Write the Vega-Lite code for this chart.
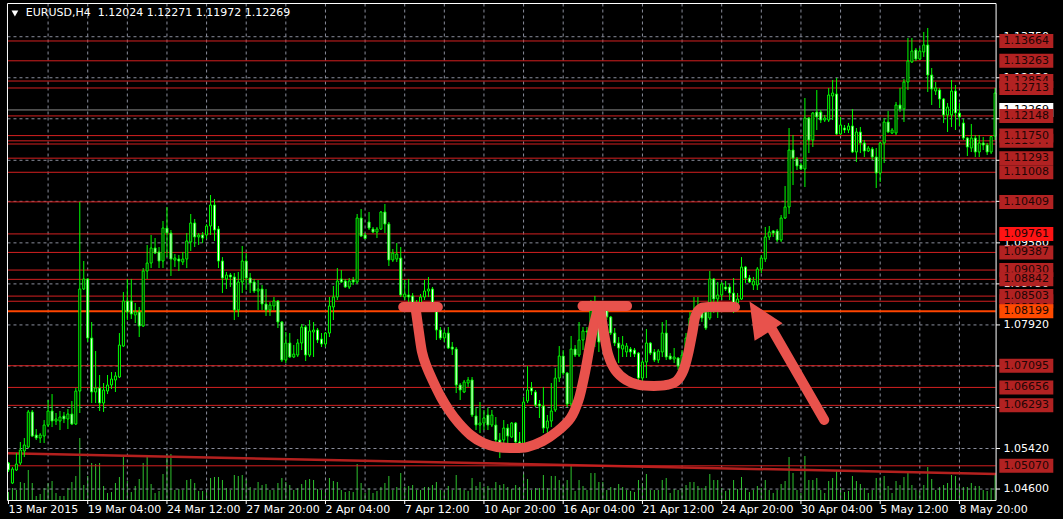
{
"$schema": "https://vega.github.io/schema/vega-lite/v6.json",
"width": 1063, "height": 519,
"autosize": {"type": "fit", "contains": "padding"},
"padding": 0,
"background": "#000000",
"config": {"view": {"stroke": null}},
"datasets": {
"candles": [
{"t":0,"o":1.05126,"h":1.05147,"l":1.04945,"c":1.04985,"v":8000},
{"t":1,"o":1.04721,"h":1.05045,"l":1.04701,"c":1.05005,"v":12000},
{"t":2,"o":1.04985,"h":1.05328,"l":1.04965,"c":1.05106,"v":10000},
{"t":3,"o":1.05126,"h":1.05552,"l":1.05086,"c":1.05389,"v":18000},
{"t":4,"o":1.05369,"h":1.05632,"l":1.05247,"c":1.05491,"v":17000},
{"t":5,"o":1.05450,"h":1.06199,"l":1.05430,"c":1.06159,"v":30000},
{"t":6,"o":1.06159,"h":1.06199,"l":1.05652,"c":1.05672,"v":17000},
{"t":7,"o":1.05693,"h":1.05814,"l":1.05592,"c":1.05632,"v":4000},
{"t":8,"o":1.05632,"h":1.05733,"l":1.05531,"c":1.05693,"v":6000},
{"t":9,"o":1.05672,"h":1.05996,"l":1.05531,"c":1.05895,"v":12000},
{"t":10,"o":1.05895,"h":1.06401,"l":1.05854,"c":1.06179,"v":17000},
{"t":11,"o":1.06179,"h":1.06522,"l":1.05854,"c":1.05976,"v":19000},
{"t":12,"o":1.05976,"h":1.06138,"l":1.05895,"c":1.06017,"v":7000},
{"t":13,"o":1.05976,"h":1.06179,"l":1.05794,"c":1.06057,"v":4000},
{"t":14,"o":1.06078,"h":1.06159,"l":1.05935,"c":1.06017,"v":4000},
{"t":15,"o":1.06017,"h":1.06219,"l":1.05814,"c":1.06118,"v":12000},
{"t":16,"o":1.06118,"h":1.06381,"l":1.05895,"c":1.05915,"v":18000},
{"t":17,"o":1.05915,"h":1.06644,"l":1.05895,"c":1.06583,"v":24000},
{"t":18,"o":1.06583,"h":1.10407,"l":1.06138,"c":1.08647,"v":62000},
{"t":19,"o":1.08647,"h":1.09213,"l":1.08626,"c":1.08849,"v":15000},
{"t":20,"o":1.08849,"h":1.08869,"l":1.07574,"c":1.07655,"v":24000},
{"t":21,"o":1.07655,"h":1.07979,"l":1.06340,"c":1.06563,"v":37000},
{"t":22,"o":1.06563,"h":1.07392,"l":1.06340,"c":1.06644,"v":36000},
{"t":23,"o":1.06644,"h":1.06907,"l":1.06179,"c":1.06340,"v":37000},
{"t":24,"o":1.06340,"h":1.06745,"l":1.06159,"c":1.06603,"v":14000},
{"t":25,"o":1.06583,"h":1.06907,"l":1.06522,"c":1.06705,"v":7000},
{"t":26,"o":1.06705,"h":1.06968,"l":1.06624,"c":1.06826,"v":8000},
{"t":27,"o":1.06806,"h":1.06968,"l":1.06563,"c":1.06887,"v":17000},
{"t":28,"o":1.06866,"h":1.07756,"l":1.06846,"c":1.07513,"v":23000},
{"t":29,"o":1.07493,"h":1.08586,"l":1.07473,"c":1.08404,"v":43000},
{"t":30,"o":1.08404,"h":1.08849,"l":1.08019,"c":1.08182,"v":19000},
{"t":31,"o":1.08404,"h":1.08849,"l":1.08040,"c":1.08141,"v":8000},
{"t":32,"o":1.08121,"h":1.08363,"l":1.07958,"c":1.08182,"v":14000},
{"t":33,"o":1.08182,"h":1.08283,"l":1.07675,"c":1.07898,"v":21000},
{"t":34,"o":1.07898,"h":1.09071,"l":1.07878,"c":1.09011,"v":37000},
{"t":35,"o":1.09011,"h":1.09537,"l":1.08849,"c":1.09172,"v":43000},
{"t":36,"o":1.09172,"h":1.09739,"l":1.09071,"c":1.09476,"v":16000},
{"t":37,"o":1.09476,"h":1.09678,"l":1.09354,"c":1.09374,"v":7000},
{"t":38,"o":1.09395,"h":1.09496,"l":1.09071,"c":1.09213,"v":9000},
{"t":39,"o":1.09213,"h":1.10022,"l":1.09071,"c":1.09880,"v":26000},
{"t":40,"o":1.09880,"h":1.10306,"l":1.09293,"c":1.09779,"v":46000},
{"t":41,"o":1.09779,"h":1.09840,"l":1.08910,"c":1.09253,"v":46000},
{"t":42,"o":1.09233,"h":1.09354,"l":1.09091,"c":1.09273,"v":10000},
{"t":43,"o":1.09253,"h":1.09334,"l":1.09011,"c":1.09213,"v":11000},
{"t":44,"o":1.09193,"h":1.09395,"l":1.09132,"c":1.09253,"v":10000},
{"t":45,"o":1.09253,"h":1.09779,"l":1.09071,"c":1.09618,"v":20000},
{"t":46,"o":1.09598,"h":1.10164,"l":1.09415,"c":1.09982,"v":21000},
{"t":47,"o":1.09982,"h":1.10063,"l":1.09496,"c":1.09699,"v":17000},
{"t":48,"o":1.09699,"h":1.09779,"l":1.09537,"c":1.09739,"v":9000},
{"t":49,"o":1.09739,"h":1.09799,"l":1.09577,"c":1.09678,"v":9000},
{"t":50,"o":1.09739,"h":1.09961,"l":1.09658,"c":1.09921,"v":11000},
{"t":51,"o":1.09921,"h":1.10548,"l":1.09739,"c":1.10346,"v":22000},
{"t":52,"o":1.10346,"h":1.10467,"l":1.09618,"c":1.09840,"v":23000},
{"t":53,"o":1.09860,"h":1.09921,"l":1.09071,"c":1.09213,"v":23000},
{"t":54,"o":1.09213,"h":1.09293,"l":1.08565,"c":1.08869,"v":20000},
{"t":55,"o":1.08849,"h":1.08991,"l":1.08647,"c":1.08930,"v":12000},
{"t":56,"o":1.08930,"h":1.08970,"l":1.08687,"c":1.08890,"v":10000},
{"t":57,"o":1.08890,"h":1.08970,"l":1.08019,"c":1.08222,"v":25000},
{"t":58,"o":1.08222,"h":1.08991,"l":1.08080,"c":1.08788,"v":24000},
{"t":59,"o":1.08788,"h":1.09516,"l":1.08565,"c":1.09213,"v":25000},
{"t":60,"o":1.09213,"h":1.09374,"l":1.08626,"c":1.08869,"v":21000},
{"t":61,"o":1.08869,"h":1.08970,"l":1.08565,"c":1.08768,"v":13000},
{"t":62,"o":1.08788,"h":1.08849,"l":1.08565,"c":1.08606,"v":10000},
{"t":63,"o":1.08606,"h":1.08829,"l":1.08222,"c":1.08647,"v":18000},
{"t":64,"o":1.08647,"h":1.08728,"l":1.08222,"c":1.08343,"v":15000},
{"t":65,"o":1.08343,"h":1.08647,"l":1.08101,"c":1.08222,"v":16000},
{"t":66,"o":1.08222,"h":1.08384,"l":1.08101,"c":1.08323,"v":10000},
{"t":67,"o":1.08303,"h":1.08485,"l":1.08222,"c":1.08404,"v":10000},
{"t":68,"o":1.08404,"h":1.08424,"l":1.07857,"c":1.07979,"v":17000},
{"t":69,"o":1.07979,"h":1.07999,"l":1.07170,"c":1.07210,"v":22000},
{"t":70,"o":1.07210,"h":1.07777,"l":1.07149,"c":1.07554,"v":18000},
{"t":71,"o":1.07554,"h":1.07756,"l":1.07250,"c":1.07271,"v":15000},
{"t":72,"o":1.07271,"h":1.07513,"l":1.07250,"c":1.07331,"v":10000},
{"t":73,"o":1.07311,"h":1.07635,"l":1.07271,"c":1.07554,"v":12000},
{"t":74,"o":1.07554,"h":1.07938,"l":1.07412,"c":1.07878,"v":16000},
{"t":75,"o":1.07878,"h":1.07918,"l":1.07190,"c":1.07311,"v":20000},
{"t":76,"o":1.07311,"h":1.08019,"l":1.07271,"c":1.07797,"v":21000},
{"t":77,"o":1.07777,"h":1.07979,"l":1.07271,"c":1.07817,"v":20000},
{"t":78,"o":1.07817,"h":1.07857,"l":1.07554,"c":1.07615,"v":11000},
{"t":79,"o":1.07635,"h":1.07756,"l":1.07473,"c":1.07534,"v":10000},
{"t":80,"o":1.07534,"h":1.07777,"l":1.07473,"c":1.07756,"v":11000},
{"t":81,"o":1.07756,"h":1.08485,"l":1.07675,"c":1.08303,"v":22000},
{"t":82,"o":1.08283,"h":1.08707,"l":1.08019,"c":1.08485,"v":19000},
{"t":83,"o":1.08485,"h":1.09071,"l":1.08424,"c":1.08808,"v":18000},
{"t":84,"o":1.08849,"h":1.09031,"l":1.08768,"c":1.08788,"v":10000},
{"t":85,"o":1.08808,"h":1.08849,"l":1.08667,"c":1.08687,"v":8000},
{"t":86,"o":1.08687,"h":1.08869,"l":1.08647,"c":1.08808,"v":9000},
{"t":87,"o":1.08829,"h":1.08890,"l":1.08728,"c":1.08788,"v":8000},
{"t":88,"o":1.08788,"h":1.10164,"l":1.08748,"c":1.10083,"v":36000},
{"t":89,"o":1.10083,"h":1.10265,"l":1.09699,"c":1.09719,"v":17000},
{"t":90,"o":1.09739,"h":1.09779,"l":1.09658,"c":1.09668,"v":7000},
{"t":91,"o":1.10002,"h":1.10204,"l":1.09840,"c":1.09880,"v":12000},
{"t":92,"o":1.09860,"h":1.09901,"l":1.09779,"c":1.09799,"v":7000},
{"t":93,"o":1.09799,"h":1.09901,"l":1.09678,"c":1.09860,"v":9000},
{"t":94,"o":1.09860,"h":1.10225,"l":1.09840,"c":1.10204,"v":13000},
{"t":95,"o":1.10204,"h":1.10366,"l":1.09779,"c":1.09961,"v":17000},
{"t":96,"o":1.09961,"h":1.10002,"l":1.09112,"c":1.09233,"v":24000},
{"t":97,"o":1.09233,"h":1.09456,"l":1.09193,"c":1.09374,"v":10000},
{"t":98,"o":1.09253,"h":1.09577,"l":1.09193,"c":1.09354,"v":13000},
{"t":99,"o":1.09273,"h":1.09496,"l":1.08485,"c":1.08525,"v":27000},
{"t":100,"o":1.08485,"h":1.08829,"l":1.08424,"c":1.08545,"v":13000},
{"t":101,"o":1.08525,"h":1.08849,"l":1.08384,"c":1.08485,"v":14000},
{"t":102,"o":1.08505,"h":1.08565,"l":1.08060,"c":1.08182,"v":15000},
{"t":103,"o":1.08182,"h":1.08424,"l":1.08161,"c":1.08363,"v":10000},
{"t":104,"o":1.08363,"h":1.08545,"l":1.08283,"c":1.08485,"v":10000},
{"t":105,"o":1.08485,"h":1.08829,"l":1.08424,"c":1.08606,"v":13000},
{"t":106,"o":1.08606,"h":1.08890,"l":1.08485,"c":1.08647,"v":13000},
{"t":107,"o":1.08647,"h":1.08687,"l":1.08182,"c":1.08222,"v":15000},
{"t":108,"o":1.08222,"h":1.08232,"l":1.07615,"c":1.07817,"v":18000},
{"t":109,"o":1.07817,"h":1.07878,"l":1.07615,"c":1.07655,"v":10000},
{"t":110,"o":1.07655,"h":1.07817,"l":1.07574,"c":1.07756,"v":9000},
{"t":111,"o":1.07756,"h":1.07878,"l":1.07432,"c":1.07453,"v":14000},
{"t":112,"o":1.07473,"h":1.07574,"l":1.07311,"c":1.07432,"v":10000},
{"t":113,"o":1.07432,"h":1.07473,"l":1.06542,"c":1.06705,"v":25000},
{"t":114,"o":1.06705,"h":1.06745,"l":1.06401,"c":1.06603,"v":12000},
{"t":115,"o":1.06563,"h":1.06806,"l":1.06542,"c":1.06765,"v":10000},
{"t":116,"o":1.06745,"h":1.06866,"l":1.06664,"c":1.06806,"v":9000},
{"t":117,"o":1.06806,"h":1.06866,"l":1.06057,"c":1.06098,"v":22000},
{"t":118,"o":1.06078,"h":1.06239,"l":1.05794,"c":1.05895,"v":14000},
{"t":119,"o":1.05895,"h":1.06361,"l":1.05733,"c":1.05935,"v":18000},
{"t":120,"o":1.05935,"h":1.06199,"l":1.05794,"c":1.06037,"v":13000},
{"t":121,"o":1.06098,"h":1.06239,"l":1.05794,"c":1.05895,"v":14000},
{"t":122,"o":1.05895,"h":1.06199,"l":1.05854,"c":1.06098,"v":12000},
{"t":123,"o":1.05895,"h":1.06057,"l":1.05450,"c":1.05592,"v":18000},
{"t":124,"o":1.05592,"h":1.05733,"l":1.05227,"c":1.05491,"v":15000},
{"t":125,"o":1.05592,"h":1.05996,"l":1.05450,"c":1.05834,"v":16000},
{"t":126,"o":1.05834,"h":1.05915,"l":1.05531,"c":1.05672,"v":13000},
{"t":127,"o":1.05652,"h":1.05955,"l":1.05632,"c":1.05935,"v":11000},
{"t":128,"o":1.05935,"h":1.05955,"l":1.05450,"c":1.05552,"v":15000},
{"t":129,"o":1.05552,"h":1.05754,"l":1.05328,"c":1.05491,"v":13000},
{"t":130,"o":1.05491,"h":1.06462,"l":1.05450,"c":1.06361,"v":27000},
{"t":131,"o":1.06381,"h":1.07088,"l":1.06340,"c":1.06603,"v":21000},
{"t":132,"o":1.06644,"h":1.06765,"l":1.06502,"c":1.06583,"v":10000},
{"t":133,"o":1.06563,"h":1.06603,"l":1.06260,"c":1.06300,"v":12000},
{"t":134,"o":1.06320,"h":1.06401,"l":1.06037,"c":1.06280,"v":12000},
{"t":135,"o":1.06280,"h":1.06664,"l":1.05733,"c":1.05834,"v":25000},
{"t":136,"o":1.05834,"h":1.06098,"l":1.05733,"c":1.05976,"v":12000},
{"t":137,"o":1.05976,"h":1.06745,"l":1.05854,"c":1.06179,"v":24000},
{"t":138,"o":1.06199,"h":1.07048,"l":1.06159,"c":1.06846,"v":24000},
{"t":139,"o":1.06846,"h":1.07493,"l":1.06765,"c":1.07291,"v":20000},
{"t":140,"o":1.07291,"h":1.07412,"l":1.06907,"c":1.06947,"v":15000},
{"t":141,"o":1.06947,"h":1.06968,"l":1.06260,"c":1.06320,"v":20000},
{"t":142,"o":1.06320,"h":1.07696,"l":1.06260,"c":1.07432,"v":36000},
{"t":143,"o":1.07432,"h":1.07513,"l":1.07271,"c":1.07311,"v":9000},
{"t":144,"o":1.07311,"h":1.07979,"l":1.07271,"c":1.07615,"v":20000},
{"t":145,"o":1.07615,"h":1.07878,"l":1.07412,"c":1.07797,"v":14000},
{"t":146,"o":1.07797,"h":1.07878,"l":1.07615,"c":1.07777,"v":10000},
{"t":147,"o":1.07777,"h":1.08424,"l":1.07412,"c":1.08283,"v":27000},
{"t":148,"o":1.08283,"h":1.08505,"l":1.07473,"c":1.07878,"v":27000},
{"t":149,"o":1.07878,"h":1.08019,"l":1.07372,"c":1.07574,"v":18000},
{"t":150,"o":1.07878,"h":1.08283,"l":1.07675,"c":1.08242,"v":18000},
{"t":151,"o":1.08242,"h":1.08283,"l":1.08019,"c":1.08080,"v":10000},
{"t":152,"o":1.08080,"h":1.08101,"l":1.07716,"c":1.07756,"v":13000},
{"t":153,"o":1.07756,"h":1.07857,"l":1.07493,"c":1.07554,"v":12000},
{"t":154,"o":1.07554,"h":1.07675,"l":1.07149,"c":1.07453,"v":16000},
{"t":155,"o":1.07432,"h":1.07696,"l":1.07271,"c":1.07513,"v":13000},
{"t":156,"o":1.07372,"h":1.07554,"l":1.07271,"c":1.07493,"v":10000},
{"t":157,"o":1.07432,"h":1.07473,"l":1.07271,"c":1.07372,"v":9000},
{"t":158,"o":1.07412,"h":1.07453,"l":1.07271,"c":1.07331,"v":8000},
{"t":159,"o":1.07351,"h":1.07372,"l":1.06644,"c":1.06846,"v":20000},
{"t":160,"o":1.06846,"h":1.07210,"l":1.06644,"c":1.07170,"v":17000},
{"t":161,"o":1.07170,"h":1.07837,"l":1.06846,"c":1.07554,"v":26000},
{"t":162,"o":1.07554,"h":1.07574,"l":1.07311,"c":1.07351,"v":10000},
{"t":163,"o":1.07372,"h":1.07432,"l":1.07170,"c":1.07210,"v":10000},
{"t":164,"o":1.07210,"h":1.07432,"l":1.07149,"c":1.07392,"v":10000},
{"t":165,"o":1.07372,"h":1.07979,"l":1.07271,"c":1.07756,"v":20000},
{"t":166,"o":1.07756,"h":1.08019,"l":1.07210,"c":1.07271,"v":22000},
{"t":167,"o":1.07291,"h":1.07351,"l":1.07210,"c":1.07230,"v":7000},
{"t":168,"o":1.07230,"h":1.07453,"l":1.07149,"c":1.07271,"v":11000},
{"t":169,"o":1.07250,"h":1.07271,"l":1.07008,"c":1.07088,"v":10000},
{"t":170,"o":1.07088,"h":1.07412,"l":1.07048,"c":1.07311,"v":12000},
{"t":171,"o":1.07311,"h":1.07756,"l":1.07250,"c":1.07655,"v":15000},
{"t":172,"o":1.07655,"h":1.08182,"l":1.07574,"c":1.08060,"v":18000},
{"t":173,"o":1.08121,"h":1.08485,"l":1.07857,"c":1.07979,"v":18000},
{"t":174,"o":1.08060,"h":1.08485,"l":1.08019,"c":1.08222,"v":14000},
{"t":175,"o":1.08222,"h":1.08323,"l":1.07979,"c":1.08060,"v":12000},
{"t":176,"o":1.08182,"h":1.08283,"l":1.07817,"c":1.07857,"v":14000},
{"t":177,"o":1.08060,"h":1.09011,"l":1.08019,"c":1.08849,"v":26000},
{"t":178,"o":1.08849,"h":1.08869,"l":1.08161,"c":1.08444,"v":20000},
{"t":179,"o":1.08444,"h":1.08788,"l":1.08060,"c":1.08525,"v":20000},
{"t":180,"o":1.08525,"h":1.08788,"l":1.08424,"c":1.08748,"v":12000},
{"t":181,"o":1.08687,"h":1.08808,"l":1.08606,"c":1.08647,"v":9000},
{"t":182,"o":1.08687,"h":1.08748,"l":1.08424,"c":1.08565,"v":11000},
{"t":183,"o":1.08565,"h":1.08869,"l":1.08161,"c":1.08363,"v":20000},
{"t":184,"o":1.08363,"h":1.08565,"l":1.08262,"c":1.08444,"v":11000},
{"t":185,"o":1.08444,"h":1.09293,"l":1.08424,"c":1.09091,"v":23000},
{"t":186,"o":1.09091,"h":1.09112,"l":1.08768,"c":1.08869,"v":12000},
{"t":187,"o":1.08869,"h":1.08930,"l":1.08768,"c":1.08788,"v":8000},
{"t":188,"o":1.08728,"h":1.08890,"l":1.08626,"c":1.08808,"v":10000},
{"t":189,"o":1.08728,"h":1.09091,"l":1.08626,"c":1.09051,"v":14000},
{"t":190,"o":1.09051,"h":1.09334,"l":1.08970,"c":1.09273,"v":12000},
{"t":191,"o":1.09253,"h":1.09901,"l":1.09193,"c":1.09699,"v":20000},
{"t":192,"o":1.09699,"h":1.09921,"l":1.09638,"c":1.09799,"v":10000},
{"t":193,"o":1.09820,"h":1.09840,"l":1.09699,"c":1.09779,"v":7000},
{"t":194,"o":1.09820,"h":1.09860,"l":1.09598,"c":1.09638,"v":10000},
{"t":195,"o":1.09638,"h":1.10144,"l":1.09598,"c":1.10083,"v":16000},
{"t":196,"o":1.10083,"h":1.10730,"l":1.10063,"c":1.10306,"v":19000},
{"t":197,"o":1.10306,"h":1.11903,"l":1.10164,"c":1.11458,"v":43000},
{"t":198,"o":1.11458,"h":1.11762,"l":1.10750,"c":1.11296,"v":27000},
{"t":199,"o":1.11276,"h":1.11317,"l":1.11054,"c":1.11135,"v":10000},
{"t":200,"o":1.11155,"h":1.11195,"l":1.11054,"c":1.11074,"v":7000},
{"t":201,"o":1.11074,"h":1.12510,"l":1.10710,"c":1.12106,"v":44000},
{"t":202,"o":1.12106,"h":1.12126,"l":1.11397,"c":1.11661,"v":20000},
{"t":203,"o":1.11661,"h":1.12227,"l":1.11519,"c":1.12207,"v":20000},
{"t":204,"o":1.12227,"h":1.12672,"l":1.11863,"c":1.12126,"v":22000},
{"t":205,"o":1.12227,"h":1.12268,"l":1.12004,"c":1.12065,"v":10000},
{"t":206,"o":1.12065,"h":1.12167,"l":1.12025,"c":1.12106,"v":7000},
{"t":207,"o":1.12065,"h":1.12713,"l":1.12025,"c":1.12571,"v":19000},
{"t":208,"o":1.12551,"h":1.12875,"l":1.12065,"c":1.12611,"v":22000},
{"t":209,"o":1.12591,"h":1.12915,"l":1.11762,"c":1.11782,"v":30000},
{"t":210,"o":1.11782,"h":1.12126,"l":1.11762,"c":1.11964,"v":12000},
{"t":211,"o":1.11903,"h":1.11964,"l":1.11802,"c":1.11863,"v":8000},
{"t":212,"o":1.11863,"h":1.12004,"l":1.11802,"c":1.11944,"v":9000},
{"t":213,"o":1.11944,"h":1.12288,"l":1.11397,"c":1.11418,"v":24000},
{"t":214,"o":1.11418,"h":1.11903,"l":1.11216,"c":1.11823,"v":19000},
{"t":215,"o":1.11823,"h":1.11924,"l":1.11397,"c":1.11600,"v":16000},
{"t":216,"o":1.11600,"h":1.11661,"l":1.11317,"c":1.11438,"v":12000},
{"t":217,"o":1.11438,"h":1.11539,"l":1.11418,"c":1.11499,"v":7000},
{"t":218,"o":1.11479,"h":1.11519,"l":1.11256,"c":1.11317,"v":10000},
{"t":219,"o":1.11317,"h":1.11499,"l":1.10690,"c":1.10993,"v":22000},
{"t":220,"o":1.10993,"h":1.11620,"l":1.10811,"c":1.11600,"v":22000},
{"t":221,"o":1.11600,"h":1.12106,"l":1.11195,"c":1.12025,"v":24000},
{"t":222,"o":1.12025,"h":1.12248,"l":1.11802,"c":1.11823,"v":14000},
{"t":223,"o":1.11802,"h":1.11903,"l":1.11782,"c":1.11863,"v":7000},
{"t":224,"o":1.11802,"h":1.12430,"l":1.11762,"c":1.12369,"v":19000},
{"t":225,"o":1.12369,"h":1.12713,"l":1.12227,"c":1.12288,"v":15000},
{"t":226,"o":1.12288,"h":1.12895,"l":1.12025,"c":1.12834,"v":23000},
{"t":227,"o":1.12834,"h":1.13724,"l":1.12672,"c":1.13259,"v":27000},
{"t":228,"o":1.13239,"h":1.13724,"l":1.13218,"c":1.13461,"v":15000},
{"t":229,"o":1.13481,"h":1.13522,"l":1.13259,"c":1.13299,"v":10000},
{"t":230,"o":1.13299,"h":1.13522,"l":1.13279,"c":1.13461,"v":9000},
{"t":231,"o":1.13441,"h":1.13846,"l":1.13340,"c":1.13583,"v":15000},
{"t":232,"o":1.13583,"h":1.13927,"l":1.12632,"c":1.12976,"v":33000},
{"t":233,"o":1.12976,"h":1.13117,"l":1.12369,"c":1.12692,"v":21000},
{"t":234,"o":1.12652,"h":1.12834,"l":1.12571,"c":1.12713,"v":10000},
{"t":235,"o":1.12672,"h":1.12713,"l":1.12308,"c":1.12490,"v":13000},
{"t":236,"o":1.12490,"h":1.12510,"l":1.12004,"c":1.12167,"v":15000},
{"t":237,"o":1.12167,"h":1.12409,"l":1.11823,"c":1.12328,"v":17000},
{"t":238,"o":1.12167,"h":1.12875,"l":1.11924,"c":1.12652,"v":25000},
{"t":239,"o":1.12652,"h":1.12773,"l":1.11863,"c":1.12207,"v":24000},
{"t":240,"o":1.12207,"h":1.12409,"l":1.11944,"c":1.12126,"v":14000},
{"t":241,"o":1.12004,"h":1.12085,"l":1.11661,"c":1.11701,"v":13000},
{"t":242,"o":1.11701,"h":1.11721,"l":1.11337,"c":1.11519,"v":13000},
{"t":243,"o":1.11499,"h":1.11985,"l":1.11418,"c":1.11701,"v":17000},
{"t":244,"o":1.11701,"h":1.11762,"l":1.11317,"c":1.11418,"v":14000},
{"t":245,"o":1.11418,"h":1.11762,"l":1.11317,"c":1.11600,"v":14000},
{"t":246,"o":1.11600,"h":1.11721,"l":1.11458,"c":1.11560,"v":10000},
{"t":247,"o":1.11560,"h":1.11600,"l":1.11357,"c":1.11418,"v":9000},
{"t":248,"o":1.11418,"h":1.11741,"l":1.11377,"c":1.11731,"v":12000},
{"t":249,"o":1.11741,"h":1.12713,"l":1.11661,"c":1.12611,"v":27000}
],
"levels": [
{"p":1.12854,"k":"r","show":0},
{"p":1.11644,"k":"r","show":0},
{"p":1.11580,"k":"r","show":2},
{"p":1.09030,"k":"r","show":0},
{"p":1.08399,"k":"r","show":0},
{"p":1.13664,"k":"r","show":1},
{"p":1.13263,"k":"r","show":1},
{"p":1.12713,"k":"r","show":1},
{"p":1.12148,"k":"r","show":1},
{"p":1.11750,"k":"r","show":1},
{"p":1.11293,"k":"r","show":1},
{"p":1.11008,"k":"r","show":1},
{"p":1.10409,"k":"r","show":1},
{"p":1.09387,"k":"r","show":1},
{"p":1.08842,"k":"r","show":1},
{"p":1.08503,"k":"r","show":1},
{"p":1.07095,"k":"r","show":1},
{"p":1.06656,"k":"r","show":1},
{"p":1.06293,"k":"r","show":1},
{"p":1.05070,"k":"r","show":1},
{"p":1.09761,"k":"b","show":1},
{"p":1.08199,"k":"o","show":1}
],
"grid": [
{"p":1.04600},{"p":1.05420},{"p":1.06250},{"p":1.07090},{"p":1.07920},{"p":1.08750},
{"p":1.09580},{"p":1.10420},{"p":1.11250},{"p":1.12090},{"p":1.12920},{"p":1.13750}
],
"dates": [
{"t":0,"d":"13 Mar 2015"},{"t":20,"d":"19 Mar 04:00"},{"t":40,"d":"24 Mar 12:00"},
{"t":60,"d":"27 Mar 20:00"},{"t":80,"d":"2 Apr 04:00"},{"t":100,"d":"7 Apr 12:00"},
{"t":120,"d":"10 Apr 20:00"},{"t":140,"d":"16 Apr 04:00"},{"t":160,"d":"21 Apr 12:00"},
{"t":180,"d":"24 Apr 20:00"},{"t":200,"d":"30 Apr 04:00"},{"t":220,"d":"5 May 12:00"},
{"t":240,"d":"8 May 20:00"}
],
"trend": [{"t":-0.25,"p":1.05323},{"t":249.25,"p":1.04904}],
"cur": [{"p":1.12269}],
"ann": [
{"s":1,"k":1,"x":99.625,"y":1.08282},{"s":1,"k":2,"x":108.375,"y":1.08282},
{"s":2,"k":1,"x":102.875,"y":1.08182},{"s":2,"k":2,"x":103.625,"y":1.07756},{"s":2,"k":3,"x":104.375,"y":1.07372},
{"s":2,"k":4,"x":105.375,"y":1.07109},{"s":2,"k":5,"x":107.125,"y":1.06786},{"s":2,"k":6,"x":109.125,"y":1.06462},
{"s":2,"k":7,"x":111.125,"y":1.06199},{"s":2,"k":8,"x":113.625,"y":1.05935},{"s":2,"k":9,"x":116.625,"y":1.05693},
{"s":2,"k":10,"x":119.875,"y":1.05531},{"s":2,"k":11,"x":123.375,"y":1.05450},{"s":2,"k":12,"x":127.125,"y":1.05430},
{"s":2,"k":13,"x":130.875,"y":1.05450},{"s":2,"k":14,"x":134.875,"y":1.05572},{"s":2,"k":15,"x":138.625,"y":1.05774},
{"s":2,"k":16,"x":141.875,"y":1.06037},{"s":2,"k":17,"x":143.875,"y":1.06401},{"s":2,"k":18,"x":145.375,"y":1.06907},
{"s":2,"k":19,"x":146.625,"y":1.07453},{"s":2,"k":20,"x":147.625,"y":1.07878},{"s":2,"k":21,"x":148.625,"y":1.08202},
{"s":3,"k":1,"x":144.875,"y":1.08303},{"s":3,"k":2,"x":156.125,"y":1.08303},
{"s":4,"k":1,"x":149.375,"y":1.08222},{"s":4,"k":2,"x":150.375,"y":1.07716},{"s":4,"k":3,"x":151.375,"y":1.07311},
{"s":4,"k":4,"x":153.125,"y":1.07008},{"s":4,"k":5,"x":155.875,"y":1.06806},{"s":4,"k":6,"x":159.125,"y":1.06705},
{"s":4,"k":7,"x":162.875,"y":1.06684},{"s":4,"k":8,"x":166.125,"y":1.06705},{"s":4,"k":9,"x":168.625,"y":1.06786},
{"s":4,"k":10,"x":170.375,"y":1.07008},{"s":4,"k":11,"x":171.625,"y":1.07372},{"s":4,"k":12,"x":172.625,"y":1.07777},
{"s":4,"k":13,"x":173.375,"y":1.08101},{"s":4,"k":14,"x":174.875,"y":1.08262},{"s":4,"k":15,"x":177.875,"y":1.08282},
{"s":4,"k":16,"x":183.375,"y":1.08282},
{"s":5,"k":1,"x":205.875,"y":1.05996},{"s":5,"k":2,"x":191.625,"y":1.07979}
],
"head": [{"x":189.775,"y":1.08040}]
},
"resolve": {"scale": {"y": "independent"}},
"layer": [
{
"data": {"name": "candles"},
"mark": {"type": "rule", "color": "#2ec22e", "strokeWidth": 1},
"encoding": {
"x": {"field": "t", "type": "quantitative", "scale": {"domain": [-0.875, 264.875], "nice": false, "zero": false}, "axis": null},
"y": {"field": "v", "type": "quantitative", "scale": {"domain": [-19000, 500000], "nice": false, "zero": false}, "axis": null},
"y2": {"datum": 0}
}
},
{
"layer": [
{
"data": {"name": "grid"},
"mark": {"type": "rule", "color": "#8a8e9c", "strokeWidth": 1, "strokeDash": [3, 3]},
"encoding": {
"x": {"datum": -0.25, "type": "quantitative"},
"x2": {"datum": 249.125},
"y": {"field": "p", "type": "quantitative", "scale": {"domain": [1.03994, 1.14493], "nice": false, "zero": false}, "axis": null}
}
},
{
"data": {"name": "candles"},
"transform": [{"filter": "datum.t > 0 && datum.t % 10 == 0"}],
"mark": {"type": "rule", "color": "#8a8e9c", "strokeWidth": 1, "strokeDash": [3, 3]},
"encoding": {
"x": {"field": "t", "type": "quantitative"},
"y": {"datum": 1.14422, "type": "quantitative"},
"y2": {"datum": 1.04378}
}
},
{
"data": {"name": "trend"},
"mark": {"type": "line", "color": "#b3201e", "strokeWidth": 2.5},
"encoding": {
"x": {"field": "t", "type": "quantitative"},
"y": {"field": "p", "type": "quantitative"}
}
},
{
"data": {"name": "levels"},
"mark": {"type": "rule"},
"encoding": {
"x": {"datum": -0.25, "type": "quantitative"},
"x2": {"datum": 249.125},
"y": {"field": "p", "type": "quantitative"},
"color": {"condition": {"test": "datum.k == 'o'", "value": "#ff4500"}, "value": "#d42020"},
"strokeWidth": {"condition": {"test": "datum.k == 'o'", "value": 2}, "value": 1}
}
},
{
"data": {"name": "cur"},
"mark": {"type": "rule", "color": "#8c8c8c", "strokeWidth": 1},
"encoding": {
"x": {"datum": -0.25, "type": "quantitative"},
"x2": {"datum": 249.125},
"y": {"field": "p", "type": "quantitative"}
}
},
{
"data": {"name": "candles"},
"mark": {"type": "rule", "color": "#00ff00", "strokeWidth": 1},
"encoding": {
"x": {"field": "t", "type": "quantitative"},
"y": {"field": "l", "type": "quantitative"},
"y2": {"field": "h"}
}
},
{
"data": {"name": "candles"},
"mark": {"type": "bar", "width": 2, "orient": "vertical", "stroke": "#00ff00", "strokeWidth": 1},
"encoding": {
"x": {"field": "t", "type": "quantitative"},
"y": {"field": "o", "type": "quantitative"},
"y2": {"field": "c"},
"fill": {"condition": {"test": "datum.c >= datum.o", "value": "#000000"}, "value": "#ffffff"}
}
},
{
"data": {"name": "ann"},
"mark": {"type": "line", "color": "#e8524c", "strokeWidth": 10, "strokeCap": "round", "strokeJoin": "round", "interpolate": "cardinal"},
"encoding": {
"x": {"field": "x", "type": "quantitative"},
"y": {"field": "y", "type": "quantitative"},
"detail": {"field": "s", "type": "nominal"},
"order": {"field": "k", "type": "quantitative"}
}
},
{
"data": {"name": "head"},
"mark": {"type": "point", "shape": "M0,-1L0.8,0.75L-0.8,0.75Z", "filled": true, "color": "#e8524c", "opacity": 1, "size": 1700, "angle": 328, "strokeWidth": 0},
"encoding": {
"x": {"field": "x", "type": "quantitative"},
"y": {"field": "y", "type": "quantitative"}
}
},
{
"data": {"values": [{"f": 1}]},
"mark": {"type": "rect", "fill": "transparent", "stroke": "#ffffff", "strokeWidth": 1},
"encoding": {
"x": {"datum": -0.25, "type": "quantitative"},
"x2": {"datum": 249.25},
"y": {"datum": 1.14422, "type": "quantitative"},
"y2": {"datum": 1.04368}
}
},
{
"data": {"name": "grid"},
"mark": {"type": "rule", "color": "#ffffff", "strokeWidth": 1},
"encoding": {
"x": {"datum": 249.25, "type": "quantitative"},
"x2": {"datum": 250.25},
"y": {"field": "p", "type": "quantitative"}
}
},
{
"data": {"name": "grid"},
"mark": {"type": "text", "color": "#ffffff", "font": "DejaVu Sans", "fontSize": 11, "align": "center", "baseline": "middle"},
"encoding": {
"x": {"datum": 256.875, "type": "quantitative"},
"y": {"field": "p", "type": "quantitative"},
"text": {"field": "p", "type": "quantitative", "format": ".5f"}
}
},
{
"data": {"name": "cur"},
"mark": {"type": "tick", "orient": "horizontal", "color": "#ffffff", "opacity": 1, "thickness": 14, "size": 54},
"encoding": {
"x": {"datum": 256.875, "type": "quantitative"},
"y": {"field": "p", "type": "quantitative"},
"size": {"value": 54}
}
},
{
"data": {"name": "cur"},
"mark": {"type": "text", "color": "#000000", "font": "DejaVu Sans", "fontSize": 11, "align": "center", "baseline": "middle"},
"encoding": {
"x": {"datum": 256.875, "type": "quantitative"},
"y": {"field": "p", "type": "quantitative"},
"text": {"field": "p", "type": "quantitative", "format": ".5f"}
}
},
{
"data": {"name": "levels"},
"transform": [{"filter": "datum.show == 0"}],
"mark": {"type": "tick", "orient": "horizontal", "opacity": 1, "thickness": 14, "size": 54},
"encoding": {
"x": {"datum": 256.875, "type": "quantitative"},
"y": {"field": "p", "type": "quantitative"},
"size": {"value": 54},
"color": {"value": "#b22222"}
}
},
{
"data": {"name": "levels"},
"transform": [{"filter": "datum.show == 0"}],
"mark": {"type": "text", "color": "#220505", "font": "DejaVu Sans", "fontSize": 11, "align": "center", "baseline": "middle"},
"encoding": {
"x": {"datum": 256.875, "type": "quantitative"},
"y": {"field": "p", "type": "quantitative"},
"text": {"field": "p", "type": "quantitative", "format": ".5f"}
}
},
{
"data": {"name": "levels"},
"transform": [{"filter": "datum.show == 1"}],
"mark": {"type": "tick", "orient": "horizontal", "opacity": 1, "thickness": 14, "size": 54},
"encoding": {
"x": {"datum": 256.875, "type": "quantitative"},
"y": {"field": "p", "type": "quantitative"},
"size": {"value": 54},
"color": {"condition": [{"test": "datum.k == 'b'", "value": "#ff1414"}, {"test": "datum.k == 'o'", "value": "#ff4a00"}], "value": "#b22222"}
}
},
{
"data": {"name": "levels"},
"transform": [{"filter": "datum.show == 1"}],
"mark": {"type": "text", "color": "#220505", "font": "DejaVu Sans", "fontSize": 11, "align": "center", "baseline": "middle"},
"encoding": {
"x": {"datum": 256.875, "type": "quantitative"},
"y": {"field": "p", "type": "quantitative"},
"text": {"field": "p", "type": "quantitative", "format": ".5f"}
}
},
{
"data": {"name": "dates"},
"mark": {"type": "rule", "color": "#ffffff", "strokeWidth": 1},
"encoding": {
"x": {"field": "t", "type": "quantitative"},
"y": {"datum": 1.04378, "type": "quantitative"},
"y2": {"datum": 1.04297}
}
},
{
"data": {"name": "dates"},
"mark": {"type": "text", "color": "#ffffff", "font": "DejaVu Sans", "fontSize": 11, "align": "left", "baseline": "middle", "dx": 0},
"encoding": {
"x": {"field": "t", "type": "quantitative"},
"y": {"datum": 1.04166, "type": "quantitative"},
"text": {"field": "d", "type": "nominal"}
}
},
{
"data": {"values": [{"s": "EURUSD,H4\u00a0\u00a01.12024 1.12271 1.11972 1.12269"}]},
"mark": {"type": "text", "color": "#ffffff", "font": "DejaVu Sans", "fontSize": 11, "align": "left", "baseline": "middle"},
"encoding": {
"x": {"datum": 4.375, "type": "quantitative"},
"y": {"datum": 1.14230, "type": "quantitative"},
"text": {"field": "s", "type": "nominal"}
}
},
{
"data": {"values": [{"s": 1}]},
"mark": {"type": "point", "shape": "triangle-down", "filled": true, "color": "#ffffff", "opacity": 1, "size": 45},
"encoding": {
"x": {"datum": 1.625, "type": "quantitative"},
"y": {"datum": 1.14220, "type": "quantitative"}
}
}
]
}
]
}
